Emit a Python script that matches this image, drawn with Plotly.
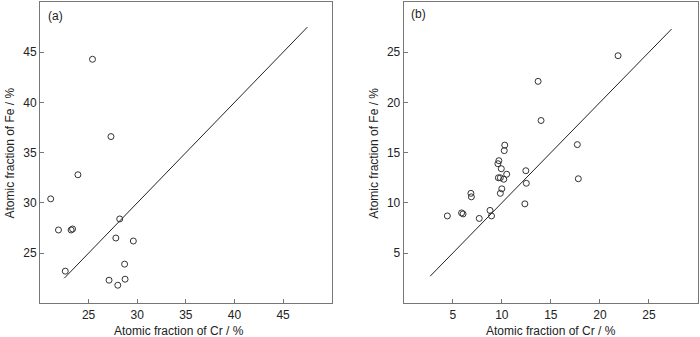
import plotly.graph_objects as go

# Panel (a): Cr vs Fe atomic fractions (%)
cr_a = [25.4, 27.3, 23.9, 21.1, 21.9, 23.2, 23.35, 28.2, 27.8, 29.6, 22.6, 28.7, 27.1, 28.0, 28.75]
fe_a = [44.3, 36.6, 32.8, 30.4, 27.3, 27.3, 27.4, 28.4, 26.5, 26.2, 23.2, 23.9, 22.3, 21.8, 22.4]

# Panel (b): Cr vs Fe atomic fractions (%)
cr_b = [4.45, 5.9, 6.05, 6.85, 6.9, 7.7, 8.8, 8.95, 9.6, 9.7, 9.65, 9.85, 9.95,
        10.25, 10.3, 10.2, 10.5, 10.0, 9.85, 12.35, 12.5, 12.45, 13.7, 14.0,
        17.7, 17.8, 21.85]
fe_b = [8.7, 9.0, 8.9, 10.95, 10.6, 8.45, 9.25, 8.7, 13.9, 14.2, 12.5, 12.5, 13.4,
        15.2, 15.75, 12.35, 12.85, 11.4, 10.95, 9.9, 11.95, 13.2, 22.1, 18.2,
        15.8, 12.4, 24.65]

# Reference 1:1 lines
diag_a = [22.5, 47.5]
diag_b = [2.7, 27.3]

ticks_a = [25, 30, 35, 40, 45]
ticks_b = [5, 10, 15, 20, 25]
range_a = [20, 50]
range_b = [0, 30]

W, H = 700, 337
FONT = "Liberation Sans, Arial, sans-serif"
AX_COLOR = "#777777"
TXT = "#222222"


def px(x):
    return x / W


def py(y):
    return 1 - y / H


marker = dict(symbol="circle-open", size=6, color="#333333", line=dict(width=1))

fig = go.Figure()
fig.add_trace(go.Scatter(x=diag_a, y=diag_a, mode="lines", line=dict(color="#222222", width=1),
                         xaxis="x", yaxis="y", showlegend=False, hoverinfo="skip"))
fig.add_trace(go.Scatter(x=cr_a, y=fe_a, mode="markers", marker=marker,
                         xaxis="x", yaxis="y", showlegend=False))
fig.add_trace(go.Scatter(x=diag_b, y=diag_b, mode="lines", line=dict(color="#222222", width=1),
                         xaxis="x2", yaxis="y2", showlegend=False, hoverinfo="skip"))
fig.add_trace(go.Scatter(x=cr_b, y=fe_b, mode="markers", marker=marker,
                         xaxis="x2", yaxis="y2", showlegend=False))


def axis(rng, ticks, domain, anchor):
    return dict(
        range=rng, domain=domain, anchor=anchor,
        tickvals=ticks, ticks="inside", ticklen=4, tickcolor=AX_COLOR, tickwidth=1,
        showline=True, linecolor=AX_COLOR, linewidth=1, mirror=True,
        showgrid=False, zeroline=False, automargin=False,
        tickfont=dict(family=FONT, size=12, color=TXT),
    )


y_dom = [py(303.3), py(2)]
fig.update_layout(
    width=W, height=H,
    margin=dict(l=0, r=0, t=0, b=0),
    paper_bgcolor="white", plot_bgcolor="white",
    font=dict(family=FONT, size=12, color=TXT),
    xaxis=axis(range_a, ticks_a, [px(40), px(331.7)], "y"),
    yaxis=axis(range_a, ticks_a, y_dom, "x"),
    xaxis2=axis(range_b, ticks_b, [px(403.7), px(698)], "y2"),
    yaxis2=axis(range_b, ticks_b, y_dom, "x2"),
)

ann = dict(xref="paper", yref="paper", showarrow=False,
           font=dict(family=FONT, size=12, color=TXT))
fig.add_annotation(text="Atomic fraction of Cr / %", x=px(179.3), y=py(331), xanchor="center", yanchor="middle", **ann)
fig.add_annotation(text="Atomic fraction of Cr / %", x=px(550.7), y=py(331), xanchor="center", yanchor="middle", **ann)
fig.add_annotation(text="Atomic fraction of Fe / %", x=px(9.5), y=py(153), textangle=-90, xanchor="center", yanchor="middle", **ann)
fig.add_annotation(text="Atomic fraction of Fe / %", x=px(373.7), y=py(153), textangle=-90, xanchor="center", yanchor="middle", **ann)
fig.add_annotation(text="(a)", x=px(45.5), y=py(16), xanchor="left", yanchor="middle", **ann)
fig.add_annotation(text="(b)", x=px(409), y=py(14.5), xanchor="left", yanchor="middle", **ann)

fig.write_html("out.html")
